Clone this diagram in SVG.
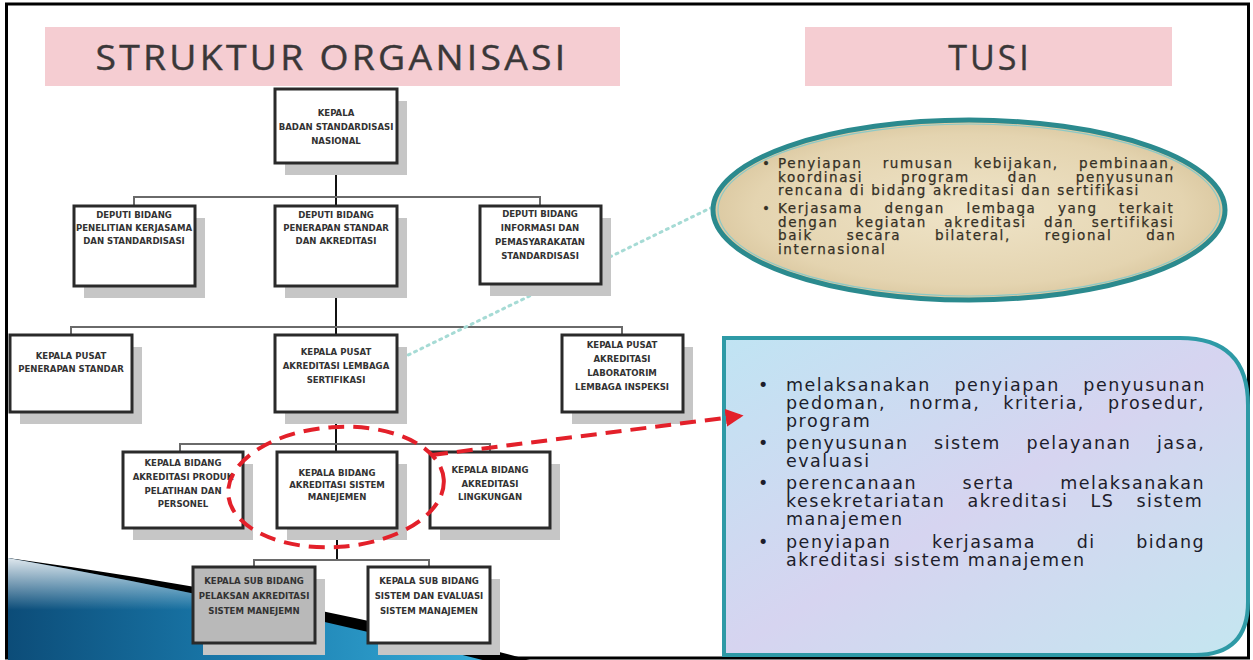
<svg xmlns="http://www.w3.org/2000/svg" width="1253" height="660" viewBox="0 0 1253 660">
<defs>
<style>
.box{fill:#fff;stroke:#2a2a2a;stroke-width:3}
.gbox{fill:#b9b9b9;stroke:#2a2a2a;stroke-width:3}
.sh{fill:#c6c6c6}
.nt{font-family:"Liberation Sans Narrow","DejaVu Sans Condensed","Liberation Sans",sans-serif;font-weight:bold;font-size:9.5px;fill:#333;text-anchor:middle}
.title{font-family:"Open Sans","Liberation Sans",sans-serif;font-size:34px;fill:#3a3738;text-anchor:middle;letter-spacing:3px;stroke:#3a3738;stroke-width:0.4}
.hl{stroke:#6a6a6a;stroke-width:2;fill:none}
.vl{stroke:#111;stroke-width:2;fill:none}
.et{font-family:"DejaVu Sans",sans-serif;font-size:13.5px;fill:#353025;letter-spacing:1.6px;stroke:#353025;stroke-width:0.25}
.bt{font-family:"DejaVu Sans",sans-serif;font-size:17.5px;fill:#1d1d2b;letter-spacing:1.5px}
</style>
<radialGradient id="parch" cx="0.5" cy="0.5" r="0.6">
<stop offset="0" stop-color="#efe4c8"/>
<stop offset="0.7" stop-color="#e4d4b0"/>
<stop offset="1" stop-color="#d2bd92"/>
</radialGradient>
<linearGradient id="sky" x1="0" y1="0" x2="1" y2="1">
<stop offset="0" stop-color="#c0e4f3"/>
<stop offset="0.5" stop-color="#d6d4f0"/>
<stop offset="1" stop-color="#c4e6f0"/>
</linearGradient>
<linearGradient id="swoosh" gradientUnits="userSpaceOnUse" x1="7" y1="0" x2="530" y2="0">
<stop offset="0" stop-color="#0c4c78"/>
<stop offset="0.45" stop-color="#1a7bad"/>
<stop offset="1" stop-color="#3cb6e0"/>
</linearGradient>
<linearGradient id="hilite" gradientUnits="userSpaceOnUse" x1="0" y1="556" x2="0" y2="610">
<stop offset="0" stop-color="#ffffff" stop-opacity="0.9"/>
<stop offset="1" stop-color="#ffffff" stop-opacity="0"/>
</linearGradient>
<marker id="ah" viewBox="0 0 10 10" refX="8" refY="5" markerWidth="4.5" markerHeight="4.5" orient="auto">
<path d="M0,0 L10,5 L0,10 Z" fill="#e3202a"/>
</marker>
</defs>

<rect x="6.5" y="4" width="1242" height="654" fill="#fff" stroke="#000" stroke-width="3"/>

<g id="decor">
<path d="M8,558 Q300,598 530,660 L8,660 Z" fill="#000"/>
<path d="M8,558 Q280,606 560,680 L8,680 Z" fill="url(#swoosh)"/>
<path d="M8,558 Q280,606 560,680 L8,680 Z" fill="url(#hilite)"/>
</g>

<g id="title-left">
<rect x="45" y="27" width="575" height="59" fill="#f5cdd2"/>
<text class="title" x="332" y="70" textLength="473" lengthAdjust="spacingAndGlyphs">STRUKTUR ORGANISASI</text>
</g>
<g id="title-right">
<rect x="805" y="27" width="367" height="59" fill="#f5cdd2"/>
<text class="title" x="990" y="70">TUSI</text>
</g>

<g id="connectors">
<path class="vl" d="M336,163 V206"/>
<path class="hl" d="M134,206 V197 H540 V206"/>
<path class="vl" d="M336,286 V335"/>
<path class="hl" d="M71,335 V327 H622 V335"/>
<path class="vl" d="M336,412 V452"/>
<path class="hl" d="M180,452 V444 H490 V452"/>
<path class="vl" d="M337,528 V560"/>
<path class="hl" d="M254,567 V560 H429 V567"/>
<path d="M402,358 L727,200" stroke="#a6dbd5" stroke-width="3" stroke-dasharray="2 5" stroke-linecap="round" fill="none"/>
</g>

<g id="n-kepala">
<rect class="sh" x="285" y="101" width="122" height="74"/>
<rect class="box" x="275" y="89" width="122" height="74"/>
<text class="nt" x="336" y="116">KEPALA</text>
<text class="nt" x="336" y="130">BADAN STANDARDISASI</text>
<text class="nt" x="336" y="144">NASIONAL</text>
</g>

<g id="n-deputi1">
<rect class="sh" x="84" y="218" width="121" height="80"/>
<rect class="box" x="74" y="206" width="121" height="80"/>
<text class="nt" x="134" y="218">DEPUTI BIDANG</text>
<text class="nt" x="134" y="231">PENELITIAN KERJASAMA</text>
<text class="nt" x="134" y="244">DAN STANDARDISASI</text>
</g>
<g id="n-deputi2">
<rect class="sh" x="285" y="218" width="122" height="80"/>
<rect class="box" x="275" y="206" width="122" height="80"/>
<text class="nt" x="336" y="218">DEPUTI BIDANG</text>
<text class="nt" x="336" y="231">PENERAPAN STANDAR</text>
<text class="nt" x="336" y="244">DAN AKREDITASI</text>
</g>
<g id="n-deputi3">
<rect class="sh" x="490" y="218" width="121" height="78"/>
<rect class="box" x="480" y="206" width="121" height="78"/>
<text class="nt" x="540" y="217">DEPUTI BIDANG</text>
<text class="nt" x="540" y="231">INFORMASI DAN</text>
<text class="nt" x="540" y="245">PEMASYARAKATAN</text>
<text class="nt" x="540" y="259">STANDARDISASI</text>
</g>

<g id="n-pusat1">
<rect class="sh" x="20" y="347" width="122" height="77"/>
<rect class="box" x="10" y="335" width="122" height="77"/>
<text class="nt" x="71" y="359">KEPALA PUSAT</text>
<text class="nt" x="71" y="372">PENERAPAN STANDAR</text>
</g>
<g id="n-pusat2">
<rect class="sh" x="285" y="347" width="122" height="77"/>
<rect class="box" x="275" y="335" width="122" height="77"/>
<text class="nt" x="336" y="355">KEPALA PUSAT</text>
<text class="nt" x="336" y="369">AKREDITASI LEMBAGA</text>
<text class="nt" x="336" y="383">SERTIFIKASI</text>
</g>
<g id="n-pusat3">
<rect class="sh" x="572" y="347" width="121" height="77"/>
<rect class="box" x="562" y="335" width="121" height="77"/>
<text class="nt" x="622" y="348">KEPALA PUSAT</text>
<text class="nt" x="622" y="362">AKREDITASI</text>
<text class="nt" x="622" y="376">LABORATORIM</text>
<text class="nt" x="622" y="390">LEMBAGA INSPEKSI</text>
</g>

<g id="n-bidang1">
<rect class="sh" x="133" y="464" width="120" height="76"/>
<rect class="box" x="123" y="452" width="120" height="76"/>
<text class="nt" x="183" y="466">KEPALA BIDANG</text>
<text class="nt" x="183" y="480">AKREDITASI PRODUK</text>
<text class="nt" x="183" y="494">PELATIHAN DAN</text>
<text class="nt" x="183" y="507">PERSONEL</text>
</g>
<g id="n-bidang2">
<rect class="sh" x="287" y="464" width="120" height="76"/>
<rect class="box" x="277" y="452" width="120" height="76"/>
<text class="nt" x="337" y="476">KEPALA BIDANG</text>
<text class="nt" x="337" y="488">AKREDITASI SISTEM</text>
<text class="nt" x="337" y="500">MANEJEMEN</text>
</g>
<g id="n-bidang3">
<rect class="sh" x="440" y="464" width="120" height="76"/>
<rect class="box" x="430" y="452" width="120" height="76"/>
<text class="nt" x="490" y="473">KEPALA BIDANG</text>
<text class="nt" x="490" y="487">AKREDITASI</text>
<text class="nt" x="490" y="500">LINGKUNGAN</text>
</g>

<g id="n-sub1">
<rect class="sh" x="203" y="579" width="122" height="76"/>
<rect class="gbox" x="193" y="567" width="122" height="76"/>
<text class="nt" x="254" y="584">KEPALA SUB BIDANG</text>
<text class="nt" x="254" y="599">PELAKSAN AKREDITASI</text>
<text class="nt" x="254" y="614">SISTEM MANEJEMN</text>
</g>
<g id="n-sub2">
<rect class="sh" x="378" y="579" width="122" height="76"/>
<rect class="box" x="368" y="567" width="122" height="76"/>
<text class="nt" x="429" y="584">KEPALA SUB BIDANG</text>
<text class="nt" x="429" y="599">SISTEM DAN EVALUASI</text>
<text class="nt" x="429" y="614">SISTEM MANAJEMEN</text>
</g>

<g id="tusi-ellipse">
<ellipse cx="969" cy="210" rx="256" ry="90" fill="url(#parch)" stroke="#2b8a8e" stroke-width="5"/>
<ellipse cx="969" cy="210" rx="251" ry="86" fill="none" stroke="#8cc9c6" stroke-width="1.2"/>
<text class="et" x="762" y="168">•</text>
<text class="et" x="778" y="168" word-spacing="14.5">Penyiapan rumusan kebijakan, pembinaan,</text>
<text class="et" x="778" y="181.5" word-spacing="32">koordinasi program dan penyusunan</text>
<text class="et" x="778" y="195">rencana di bidang akreditasi dan sertifikasi</text>
<text class="et" x="762" y="213">•</text>
<text class="et" x="778" y="213" word-spacing="15.5">Kerjasama dengan lembaga yang terkait</text>
<text class="et" x="778" y="226.5" word-spacing="11.5">dengan kegiatan akreditasi dan sertifikasi</text>
<text class="et" x="778" y="240" word-spacing="28">baik secara bilateral, regional dan</text>
<text class="et" x="778" y="253.5">internasional</text>
</g>

<g id="tusi-box">
<path d="M724,338 H1180 Q1248,338 1248,405 V602 Q1248,655 1195,655 H724 Z" fill="url(#sky)" stroke="#2e9aa6" stroke-width="4"/>
<text class="bt" x="758" y="391">•</text>
<text class="bt" x="786" y="391" word-spacing="16.5">melaksanakan penyiapan penyusunan</text>
<text class="bt" x="786" y="409" word-spacing="16">pedoman, norma, kriteria, prosedur,</text>
<text class="bt" x="786" y="427">program</text>
<text class="bt" x="758" y="449">•</text>
<text class="bt" x="786" y="449" word-spacing="18.5">penyusunan sistem pelayanan jasa,</text>
<text class="bt" x="786" y="467">evaluasi</text>
<text class="bt" x="758" y="489">•</text>
<text class="bt" x="786" y="489" word-spacing="38.5">perencanaan serta melaksanakan</text>
<text class="bt" x="786" y="507" word-spacing="15">kesekretariatan akreditasi LS sistem</text>
<text class="bt" x="786" y="525">manajemen</text>
<text class="bt" x="758" y="548">•</text>
<text class="bt" x="786" y="548" word-spacing="33.5">penyiapan kerjasama di bidang</text>
<text class="bt" x="786" y="566">akreditasi sistem manajemen</text>
</g>

<g id="highlight">
<ellipse cx="336" cy="487" rx="108" ry="60" fill="none" stroke="#e3202a" stroke-width="4" stroke-dasharray="16 9" transform="rotate(-4 336 487)"/>
<path d="M432,455 L740,416" stroke="#e3202a" stroke-width="4" stroke-dasharray="16 9" fill="none" marker-end="url(#ah)"/>
</g>
</svg>
